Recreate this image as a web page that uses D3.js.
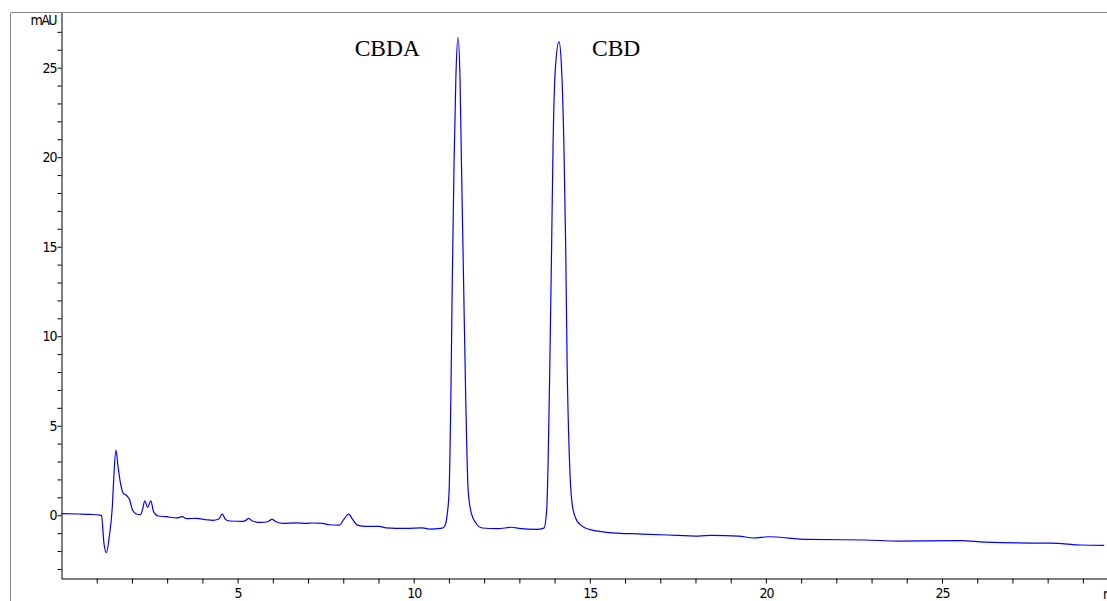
<!DOCTYPE html>
<html lang="en">
<head>
    <meta charset="UTF-8">
    <title>Chromatogram</title>
    <script src="https://cdn.jsdelivr.net/npm/d3@7"></script>
</head>
<body>

    <div class="marco"></div>

    <style>
        body, html {margin: 0; padding: 0; background: #fff;}
        .marco {width: 1107px; height: 601px; overflow: hidden;}
        .eje text {font-family: "Liberation Sans Narrow", "DejaVu Sans Condensed", "Liberation Sans", sans-serif; font-size: 14px; letter-spacing: -1px; fill: #000;}
        .eje path, .eje line {stroke: #000; stroke-width: 1;}
        .pico {font-family: "Liberation Serif", "DejaVu Serif", serif; font-size: 23.5px; fill: #000;}
        .marcoLinea {stroke: #8a8a8a; stroke-width: 1;}
    </style>

    <script>
        const tiempos = [
            0.00, 0.50, 0.82, 1.10, 1.15, 1.22, 1.29, 1.37, 1.46, 1.50,
            1.56, 1.62, 1.69, 1.76, 1.88, 1.95, 2.03, 2.14, 2.26, 2.31,
            2.38, 2.46, 2.55, 2.63, 2.76, 2.99, 3.28, 3.45, 3.56, 3.84,
            4.13, 4.31, 4.48, 4.58, 4.67, 4.79, 5.16, 5.26, 5.33, 5.43,
            5.68, 5.87, 5.99, 6.11, 6.30, 6.68, 6.96, 7.15, 7.43, 7.62,
            7.90, 8.05, 8.17, 8.28, 8.42, 8.66, 9.04, 9.23, 9.79, 10.26,
            10.45, 10.83, 10.90, 10.97, 11.02, 11.07, 11.11, 11.16, 11.21,
            11.27, 11.33, 11.37, 11.43, 11.49, 11.56, 11.65, 11.78, 11.96,
            12.40, 12.80, 13.00, 13.50, 13.71, 13.79, 13.83, 13.88, 13.93, 13.97,
            14.04, 14.14, 14.21, 14.28, 14.33, 14.37, 14.44, 14.51,
            14.61, 14.75, 15.00, 15.50, 16.50, 17.50, 18.10, 18.48, 19.24, 19.66,
            20.08, 21.20, 22.82, 23.77, 25.56, 26.22, 27.54, 28.10, 28.95, 29.62
        ];
        const mAU = [
            0.06, 0.04, 0.02, -0.02, -0.05, -1.60, -2.12, -1.23, 0.54, 2.12,
            3.61, 2.68, 1.75, 1.23, 1.04, 0.82, 0.26, 0.04, 0.00, 0.26,
            0.77, 0.41, 0.77, 0.17, -0.07, -0.11, -0.18, -0.11, -0.22, -0.20,
            -0.28, -0.31, -0.24, 0.04, -0.26, -0.35, -0.37, -0.30, -0.20, -0.35,
            -0.43, -0.39, -0.26, -0.39, -0.48, -0.45, -0.48, -0.46, -0.48, -0.56,
            -0.58, -0.20, 0.04, -0.26, -0.58, -0.65, -0.65, -0.73, -0.76, -0.73,
            -0.80, -0.75, -0.62, 0.09, 1.38, 6.63, 13.1, 19.65, 24.3,
            26.67, 24.3, 19.65, 13.1, 6.63, 1.38, 0.09, -0.46, -0.74,
            -0.78, -0.70, -0.76, -0.82, -0.75, 0.26, 2.88, 8.47, 14.96, 20.54,
            25.03, 26.43, 25.03, 20.54, 14.96, 8.47, 2.88, 0.65,
            -0.18, -0.57, -0.82, -0.98, -1.08, -1.15, -1.19, -1.15, -1.19, -1.30,
            -1.23, -1.38, -1.41, -1.47, -1.45, -1.53, -1.58, -1.58, -1.69, -1.71
        ];

        // picos con nombre
        const picosNombre = ["CBDA", "CBD"];
        const picosTiempo = [11.27, 14.14];

        // marcas de los ejes
        const ticksX = d3.range(1, 30);
        const ticksY = d3.range(-3, 28);

        var width = 1107,
            height = 601;

        var svg = d3.select(".marco").append("svg")
            .attr("width", width)
            .attr("height", height);

        // escalas
        var x = d3.scaleLinear().domain([0, 30]).range([61, 61 + 35.22 * 30]),
            y = d3.scaleLinear().domain([-3.55, 28.08]).range([578.3, 12]);

        // marco gris exterior
        svg.append("line").attr("class", "marcoLinea")
            .attr("x1", 10.5).attr("y1", 12.5).attr("x2", width).attr("y2", 12.5);
        svg.append("line").attr("class", "marcoLinea")
            .attr("x1", 10.5).attr("y1", 12.5).attr("x2", 10.5).attr("y2", height);

        // eje horizontal
        svg.append("g")
            .attr("class", "eje")
            .attr("transform", "translate(0.5, 578.5)")
            .call(d3.axisBottom(x)
                .tickValues(ticksX)
                .tickSize(5)
                .tickSizeOuter(0)
                .tickPadding(5)
                .tickFormat(d => d % 5 === 0 ? d : ""));

        // unidad del eje horizontal (queda cortada en el borde, como en el original)
        svg.append("text")
            .attr("x", 1103)
            .attr("y", 599)
            .style("font-family", "'Liberation Sans Narrow', 'DejaVu Sans Condensed', sans-serif")
            .style("font-size", "14px")
            .style("letter-spacing", "-1px")
            .text("min");

        // eje vertical
        svg.append("g")
            .attr("class", "eje")
            .attr("transform", "translate(61.5, 0.5)")
            .call(d3.axisLeft(y)
                .tickValues(ticksY)
                .tickSize(4)
                .tickSizeOuter(0)
                .tickPadding(1)
                .tickFormat(d => d % 5 === 0 ? d : ""));

        svg.append("text")
            .attr("x", 56)
            .attr("y", 25)
            .attr("text-anchor", "end")
            .style("font-family", "'Liberation Sans Narrow', 'DejaVu Sans Condensed', sans-serif")
            .style("font-size", "14px")
            .style("letter-spacing", "-1.5px")
            .text("mAU");

        // linea del cromatograma
        var linea = d3.line()
            .x((d, i) => x(tiempos[i]))
            .y(d => y(d))
            .curve(d3.curveMonotoneX);

        svg.append("path")
            .datum(mAU)
            .attr("fill", "none")
            .attr("stroke", "#0000ff")
            .attr("stroke-width", 1.2)
            .attr("d", linea);

        // nombres de los picos
        svg.selectAll(".pico")
            .data(picosNombre)
            .enter().append("text")
            .attr("class", "pico")
            .attr("x", (d, i) => i === 0 ? x(picosTiempo[i]) - 38 : x(picosTiempo[i]) + 33)
            .attr("y", 56)
            .attr("text-anchor", (d, i) => i === 0 ? "end" : "start")
            .text(d => d);
    </script>
</body>
</html>
